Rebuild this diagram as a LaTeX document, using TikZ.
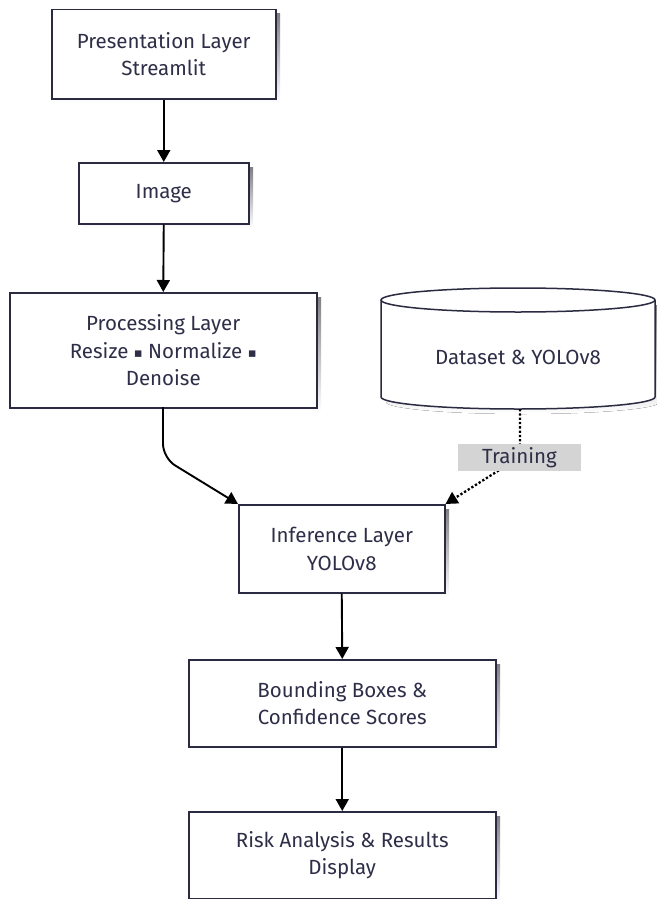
\documentclass[tikz,border=0pt]{standalone}
\usepackage{fontspec}
\setmainfont{Fira Sans}
\newfontfamily\symfont{DejaVu Sans}
\usetikzlibrary{arrows.meta}
\definecolor{txt}{HTML}{2E2E48}
\definecolor{edge}{HTML}{2A2A40}
\definecolor{shade}{HTML}{EBEBEB}
\definecolor{lbl}{HTML}{D4D4D4}
\tikzset{
  x=1pt,y=-1pt,
  box/.style={draw=edge, line width=1.5pt, fill=white, text=txt, align=center,
    font=\fontsize{20.5}{27.5}\selectfont, inner sep=0pt, anchor=north west},
  arr/.style={draw=black, line width=1.9pt, -{Triangle[length=12pt,width=13pt]}},
  dotarr/.style={draw=black, line width=2.3pt, dotted, -{Triangle[length=12pt,width=13pt]}},
}
\newcommand{\shadowbox}[4]{\fill[shade] (#1+5,#2+5) rectangle (#3+5,#4+5);}
\newcommand{\sq}{{\symfont\fontsize{13}{13}\selectfont\raisebox{1pt}{▪}}}
\begin{document}
\begin{tikzpicture}
\useasboundingbox (0,0) rectangle (656,899);
% shadows
\shadowbox{51}{9}{275}{98}
\shadowbox{78}{162}{248}{223}
\shadowbox{9}{292}{316}{407}
\shadowbox{238}{504}{444}{592}
\shadowbox{188}{659}{495}{746}
\shadowbox{188}{811}{495}{898}
\fill[shade] (386,305) -- (386,402) arc[start angle=180,end angle=360,x radius=137,y radius=-12] -- (660,305) -- cycle;
% boxes
\node[box, minimum width=224, minimum height=89] (pres) at (51,9) {Presentation Layer\\Streamlit};
\node[box, minimum width=170, minimum height=61] (img) at (78,162) {Image};
\node[box, minimum width=307, minimum height=115] (proc) at (9,292) {Processing Layer\\Resize \sq{} Normalize \sq\\Denoise};
\node[box, minimum width=206, minimum height=88] (inf) at (238,504) {Inference Layer\\YOLOv8};
\node[box, minimum width=307, minimum height=87] (bbox) at (188,659) {Bounding Boxes \&\\Confidence Scores};
\node[box, minimum width=307, minimum height=87] (risk) at (188,811) {Risk Analysis \& Results\\Display};
% cylinder
\filldraw[draw=edge, fill=white, line width=1.5pt]
  (381,300) -- (381,397) arc[start angle=180,end angle=360,x radius=137,y radius=-12]
  -- (655,300);
\filldraw[draw=edge, fill=white, line width=1.5pt] (518,300) ellipse[x radius=137,y radius=12];
\node[text=txt, font=\fontsize{20.5}{27.5}\selectfont] (db) at (518,357) {Dataset \& YOLOv8};
% connectors
\draw[arr] (pres.south) -- (img.north);
\draw[arr] (img.south) -- (proc.north);
\draw[arr, rounded corners=14pt] (163,407) -- (163,458) -- (inf.north west);
\draw[dotarr] (520,409) -- (520,457) -- (inf.north east);
\node[fill=lbl, text=txt, font=\fontsize{20.5}{22}\selectfont, minimum width=123, minimum height=27, inner sep=0pt] (train) at (519.5,457.5) {Training};
\draw[arr] (inf.south) -- (bbox.north);
\draw[arr] (bbox.south) -- (risk.north);
\end{tikzpicture}
\end{document}
